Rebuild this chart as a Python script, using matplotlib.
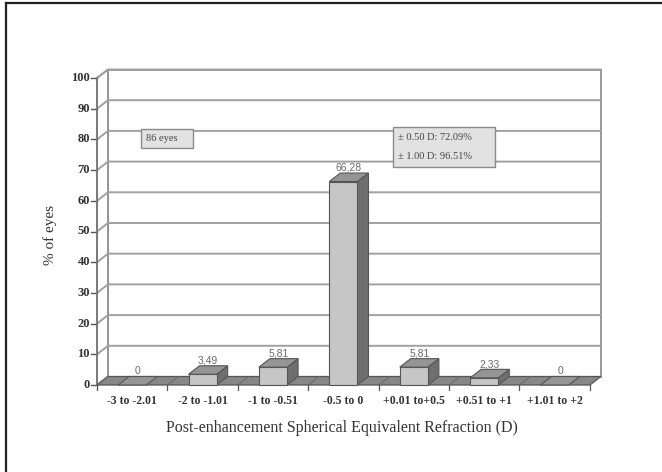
import matplotlib
matplotlib.use("Agg")
import matplotlib.pyplot as plt
from matplotlib.patches import Polygon, Rectangle
from matplotlib.lines import Line2D

# ─────────────────────────────────────────
#  Data
# ─────────────────────────────────────────

categories = ["-3 to -2.01", "-2 to -1.01", "-1 to -0.51", "-0.5 to 0",
              "+0.01 to+0.5", "+0.51 to +1", "+1.01 to +2"]
percent_eyes = [0.0, 3.49, 5.81, 66.28, 5.81, 2.33, 0.0]
y_ticks = [0, 10, 20, 30, 40, 50, 60, 70, 80, 90, 100]
n_eyes_note = "86 eyes"
accuracy_notes = ["± 0.50 D: 72.09%", "± 1.00 D: 96.51%"]

# ─────────────────────────────────────────
#  Layout (pixel scale of the frame)
# ─────────────────────────────────────────

W_PX, H_PX = 662, 472
PX_X, PX_Y = 70.4, 3.07        # pixels per category / per percent
X0_PX, Y0_PX = 97, 385         # front-left corner of the floor
DX, DY = 11 / PX_X, 8.5 / PX_Y  # depth offset of the 3-D box
BAR_W = 0.40

FRONT = "#c6c6c6"
TOP = "#959595"
SIDE = "#6f6f6f"
FLOOR = "#878787"
EDGE = "#555555"
GRID = "#a0a0a0"
SERIF = "Liberation Serif"
SANS = "Liberation Sans"

fig = plt.figure(figsize=(W_PX / 100, H_PX / 100), dpi=100)
ax = fig.add_axes([0, 0, 1, 1])
ax.set_xlim(-0.5 - X0_PX / PX_X, -0.5 + (W_PX - X0_PX) / PX_X)
ax.set_ylim((Y0_PX - H_PX) / PX_Y, Y0_PX / PX_Y)
ax.axis("off")

n = len(categories)
x_left, x_right = -0.5, n - 0.5
y_top = y_ticks[-1]

# outer frame (top and left rules)
fig.add_artist(Line2D([6 / W_PX, 1], [1 - 3 / H_PX] * 2, color="#222222", lw=1.6))
fig.add_artist(Line2D([6 / W_PX] * 2, [0, 1 - 3 / H_PX], color="#222222", lw=1.6))

# back wall and left wall
ax.add_patch(Polygon([(x_left + DX, DY), (x_right + DX, DY),
                      (x_right + DX, y_top + DY), (x_left + DX, y_top + DY)],
                     closed=True, fc="white", ec="#909090", lw=1.3, zorder=1))
ax.add_patch(Polygon([(x_left, 0), (x_left + DX, DY),
                      (x_left + DX, y_top + DY), (x_left, y_top)],
                     closed=True, fc="white", ec="#909090", lw=1.3, zorder=1))

for t in y_ticks[1:]:
    ax.plot([x_left, x_left + DX, x_right + DX], [t, t + DY, t + DY],
            color=GRID, lw=1.4, zorder=2)

for t in y_ticks:
    ax.plot([x_left - 0.085, x_left], [t, t], color="#555555", lw=1.0, zorder=3)
    ax.text(x_left - 0.1, t, str(t), ha="right", va="center",
            fontsize=9, fontweight="bold", family=SERIF, color="#333333")

# y axis front edge
ax.plot([x_left, x_left], [0, y_top], color="#777777", lw=1.2, zorder=3)

# floor
ax.add_patch(Polygon([(x_left, 0), (x_right, 0), (x_right + DX, DY), (x_left + DX, DY)],
                     closed=True, fc=FLOOR, ec=EDGE, lw=0.9, zorder=3))
for k in range(n + 1):
    xb = x_left + k
    ax.plot([xb, xb + DX], [0, DY], color="#6a6a6a", lw=0.8, zorder=3)
    ax.plot([xb, xb], [0, -1.5], color="#555555", lw=0.9, zorder=3)

# bars
for i, (cat, v) in enumerate(zip(categories, percent_eyes)):
    x0, x1 = i - BAR_W / 2, i + BAR_W / 2
    if v > 0:
        ax.add_patch(Polygon([(x1, 0), (x1 + DX, DY), (x1 + DX, v + DY), (x1, v)],
                             closed=True, fc=SIDE, ec=EDGE, lw=0.8, zorder=4))
        ax.add_patch(Rectangle((x0, 0), BAR_W, v, fc=FRONT, ec=EDGE, lw=0.8, zorder=4))
    ax.add_patch(Polygon([(x0, v), (x1, v), (x1 + DX, v + DY), (x0 + DX, v + DY)],
                         closed=True, fc=TOP, ec=EDGE, lw=0.8, zorder=4))

    label = "0" if v == 0 else f"{v:.2f}".replace(".", ",")
    ax.text(i + DX / 2, v + DY + 1.7, label, ha="center", va="center",
            fontsize=7.5, family=SANS, color="#6a6a6a", zorder=5)

    ax.text(i, -5.3, cat, ha="center", va="center", fontsize=8.5,
            fontweight="bold", family=SERIF, color="#333333")

# axis titles
ax.text(x_left + (x_right - x_left) / 2 - 0.02, -14.0,
        "Post-enhancement Spherical Equivalent Refraction (D)",
        ha="center", va="center", fontsize=11.5, family=SERIF, color="#333333")
ax.text(-0.5 - 47 / PX_X, 49, "% of eyes", rotation=90, ha="center", va="center",
        fontsize=11, family=SERIF, color="#333333")

# note boxes
ax.add_patch(Rectangle((0.125, 77.2), 0.74, 6.2, fc="#e2e2e2", ec="#8a8a8a",
                       lw=1.0, zorder=6))
ax.text(0.2, 80.3, n_eyes_note, ha="left", va="center", fontsize=7.5,
        family=SERIF, color="#444444", zorder=7)

ax.add_patch(Rectangle((3.705, 71.0), 1.45, 13.0, fc="#e2e2e2", ec="#8a8a8a",
                       lw=1.0, zorder=6))
for k, note in enumerate(accuracy_notes):
    ax.text(3.78, 80.6 - 6.3 * k, note, ha="left", va="center", fontsize=7.5,
            family=SERIF, color="#444444", zorder=7)

fig.savefig("out.png", dpi=100, facecolor="white")
